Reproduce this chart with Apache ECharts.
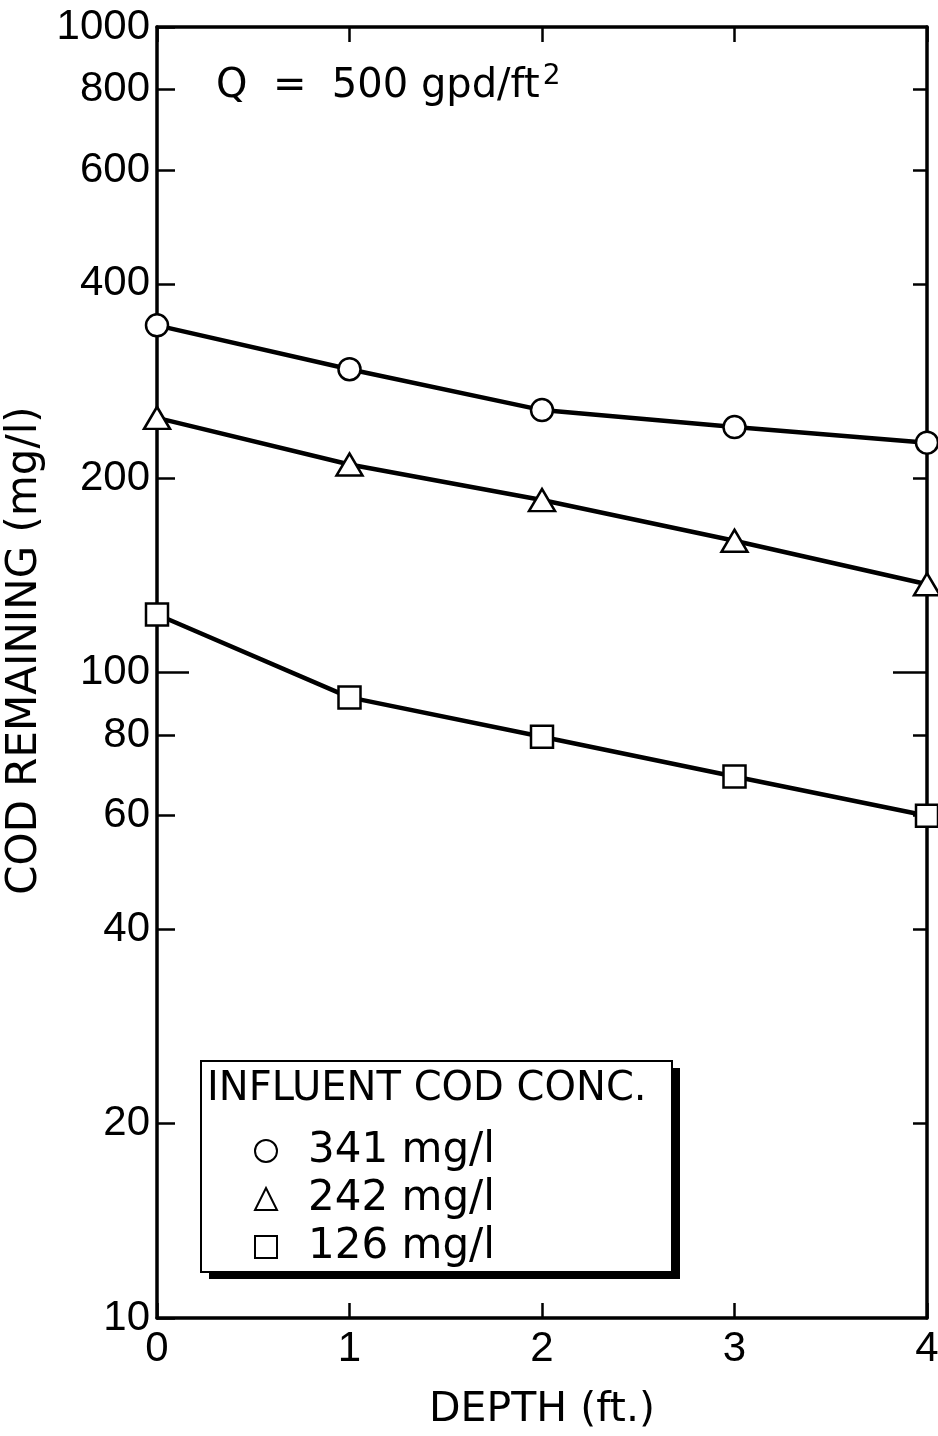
<!DOCTYPE html>
<html>
<head>
<meta charset="utf-8">
<title>COD remaining vs depth</title>
<script src="https://cdn.jsdelivr.net/npm/echarts@6/dist/echarts.min.js"></script>
<style>
  html, body { margin: 0; padding: 0; background: #fff; }
  #chart { width: 938px; height: 1436px; }
</style>
</head>
<body>
<div id="chart"></div>
<script>
// depth (ft.)
const depth = [0, 1, 2, 3, 4]
// COD remaining (mg/l)
const cod341 = [345, 295, 255, 240, 227]
const cod242 = [248, 210, 185, 160, 137]
const cod126 = [123, 91.5, 79.5, 69, 60]
const seriesNames = ['341 mg/l', '242 mg/l', '126 mg/l']
const yTickValues = [10, 20, 40, 60, 80, 100, 200, 400, 600, 800, 1000]
const xTickValues = [0, 1, 2, 3, 4]

const numFont = 'Liberation Sans'
const wordFont = 'DejaVu Sans'
const ink = '#000'

function pairs(ys) {
  return depth.map(function(d, i) { return [d, ys[i]] })
}

function logAxis(extra) {
  return Object.assign({
    type: 'log',
    logBase: 10,
    min: 10,
    max: 1000,
    splitLine: { show: false },
    axisLine: { show: false },
    axisLabel: { show: false },
    axisTick: { show: false }
  }, extra)
}

const chart = echarts.init(document.getElementById('chart'))

chart.setOption({
  backgroundColor: '#fff',
  animation: false,
  title: {
    text: '{a|Q  =  500 gpd/ft}{b|2}',
    left: 211,
    top: 58,
    textStyle: {
      rich: {
        a: { fontFamily: wordFont, fontSize: 40, fontWeight: 'normal', color: ink, lineHeight: 48 },
        b: { fontFamily: wordFont, fontSize: 28, fontWeight: 'normal', color: ink, verticalAlign: 'top', lineHeight: 48, padding: [0, 0, 24, 3] }
      }
    }
  },
  grid: {
    left: 157,
    right: 11,
    top: 27,
    bottom: 118,
    containLabel: false,
    outerBoundsMode: 'none'
  },
  xAxis: [
    {
      type: 'value',
      position: 'bottom',
      min: 0,
      max: 4,
      interval: 1,
      name: 'DEPTH (ft.)',
      nameLocation: 'middle',
      nameGap: 72,
      nameTextStyle: { fontFamily: wordFont, fontSize: 41, color: ink },
      splitLine: { show: false },
      axisLine: { lineStyle: { color: ink, width: 3.5 } },
      axisTick: { inside: true, length: 15, lineStyle: { color: ink, width: 2.5 } },
      axisLabel: { fontFamily: numFont, fontSize: 42, color: ink, margin: 10, customValues: xTickValues }
    },
    {
      type: 'value',
      position: 'top',
      min: 0,
      max: 4,
      interval: 1,
      splitLine: { show: false },
      axisLine: { lineStyle: { color: ink, width: 3.5 } },
      axisTick: { inside: true, length: 15, lineStyle: { color: ink, width: 2.5 } },
      axisLabel: { show: false }
    }
  ],
  yAxis: [
    logAxis({
      position: 'left',
      name: 'COD REMAINING (mg/l)',
      nameLocation: 'middle',
      nameRotate: 90,
      nameGap: 86,
      nameTextStyle: { fontFamily: wordFont, fontSize: 42, color: ink, padding: [0, 0, 0, 44] },
      axisLine: { show: true, lineStyle: { color: ink, width: 3.5 } },
      axisTick: { show: true, inside: true, length: 18, customValues: yTickValues, lineStyle: { color: ink, width: 2.5 } },
      axisLabel: {
        show: true,
        fontFamily: numFont,
        fontSize: 42,
        color: ink,
        margin: 7,
        customValues: yTickValues,
        formatter: function(v) { return String(Math.round(v)) }
      }
    }),
    logAxis({
      position: 'left',
      axisTick: { show: true, inside: true, length: 32, customValues: [100], lineStyle: { color: ink, width: 2.5 } }
    }),
    logAxis({
      position: 'right',
      axisLine: { show: true, lineStyle: { color: ink, width: 3.5 } },
      axisTick: { show: true, inside: true, length: 14, customValues: [20, 40, 60, 80, 200, 400, 600, 800], lineStyle: { color: ink, width: 2.5 } }
    }),
    logAxis({
      position: 'right',
      axisTick: { show: true, inside: true, length: 34, customValues: [100], lineStyle: { color: ink, width: 2.5 } }
    })
  ],
  legend: {
    orient: 'vertical',
    left: 254,
    top: 1130,
    padding: 0,
    itemGap: 6,
    itemWidth: 22,
    itemHeight: 22,
    textStyle: { fontFamily: wordFont, fontSize: 42, color: ink, lineHeight: 40, padding: [0, 0, 0, 26] },
    data: [
      { name: seriesNames[0], icon: 'circle' },
      { name: seriesNames[1], icon: 'triangle' },
      { name: seriesNames[2], icon: 'rect' }
    ]
  },
  graphic: [
    {
      type: 'rect',
      left: 209,
      top: 1068,
      shape: { width: 471, height: 211 },
      style: { fill: ink },
      z: 1
    },
    {
      type: 'rect',
      left: 200,
      top: 1060,
      shape: { width: 471, height: 211 },
      style: { fill: '#fff', stroke: ink, lineWidth: 2 },
      z: 2
    },
    {
      type: 'text',
      left: 207,
      top: 1070,
      style: { text: 'INFLUENT COD CONC.', fontFamily: wordFont, fontSize: 40, fill: ink },
      z: 3
    }
  ],
  series: [
    {
      name: seriesNames[0],
      type: 'line',
      data: pairs(cod341),
      symbol: 'circle',
      symbolSize: 22,
      itemStyle: { color: '#fff', borderColor: ink, borderWidth: 2.5 },
      lineStyle: { color: ink, width: 4.5 },
      z: 5
    },
    {
      name: seriesNames[1],
      type: 'line',
      data: pairs(cod242),
      symbol: 'triangle',
      symbolSize: [26, 22],
      itemStyle: { color: '#fff', borderColor: ink, borderWidth: 2.5 },
      lineStyle: { color: ink, width: 4.5 },
      z: 5
    },
    {
      name: seriesNames[2],
      type: 'line',
      data: pairs(cod126),
      symbol: 'rect',
      symbolSize: 22,
      itemStyle: { color: '#fff', borderColor: ink, borderWidth: 2.5 },
      lineStyle: { color: ink, width: 4.5 },
      z: 5
    }
  ]
})
</script>
</body>
</html>
